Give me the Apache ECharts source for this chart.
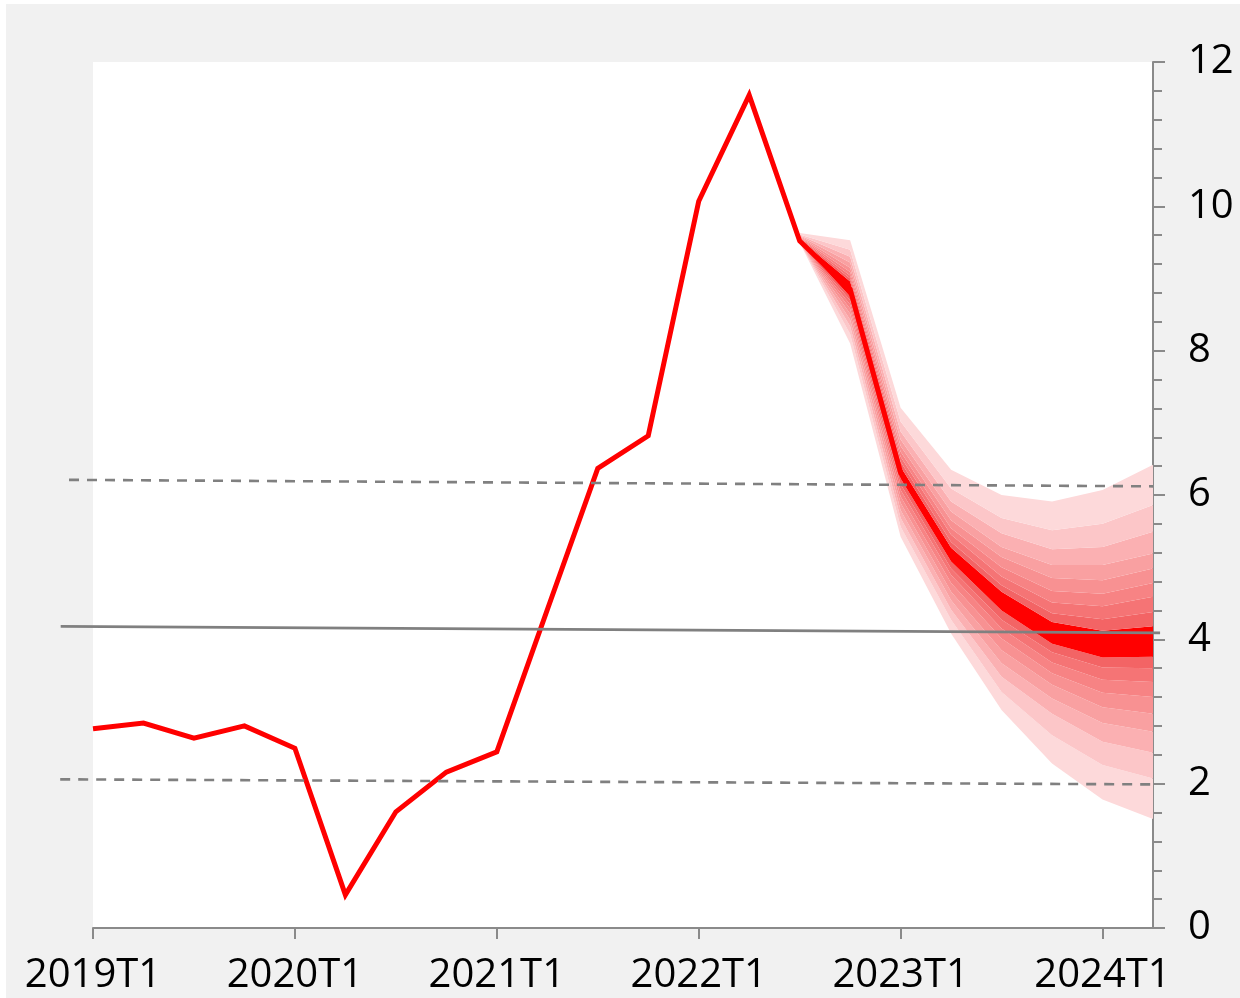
<!DOCTYPE html>
<html>
<head>
<meta charset="utf-8">
<script src="https://cdn.jsdelivr.net/npm/echarts@6/dist/echarts.min.js"></script>
<style>
  html, body { margin: 0; padding: 0; background: #ffffff; }
  #chart { position: absolute; left: 6px; top: 4px; width: 1234px; height: 994px; }
</style>
</head>
<body>
<div id="chart"></div>
<script>
// ---------- DATA ----------
const categories = [
  '2019T1','2019T2','2019T3','2019T4',
  '2020T1','2020T2','2020T3','2020T4',
  '2021T1','2021T2','2021T3','2021T4',
  '2022T1','2022T2','2022T3','2022T4',
  '2023T1','2023T2','2023T3','2023T4',
  '2024T1','2024T2'
];

// main inflation line
const mainLine = [2.76, 2.84, 2.63, 2.80, 2.49, 0.46, 1.61, 2.16, 2.44, 4.41, 6.37, 6.82,
                  10.07, 11.54, 9.52, 8.85, 6.31, 5.19, 4.53, 4.09, 3.94, 3.97];

// fan boundaries, 2022T3 .. 2024T2, ordered from outer bottom to outer top
const fanStart = 14; // index of 2022T3
const fanBounds = [
  [9.50, 8.10, 5.42, 4.08, 3.02, 2.28, 1.78, 1.51], // outer bottom
  [9.50, 8.23, 5.56, 4.27, 3.27, 2.67, 2.26, 2.07],
  [9.50, 8.34, 5.68, 4.41, 3.48, 2.97, 2.58, 2.43],
  [9.50, 8.43, 5.79, 4.54, 3.67, 3.18, 2.84, 2.72],
  [9.50, 8.51, 5.89, 4.66, 3.85, 3.37, 3.06, 2.97],
  [9.50, 8.58, 5.98, 4.78, 4.01, 3.53, 3.26, 3.20],
  [9.50, 8.64, 6.07, 4.89, 4.15, 3.68, 3.44, 3.41],
  [9.50, 8.70, 6.15, 4.98, 4.27, 3.82, 3.61, 3.60],
  [9.51, 8.75, 6.23, 5.08, 4.40, 3.94, 3.75, 3.76], // central band bottom
  [9.54, 8.96, 6.39, 5.27, 4.66, 4.24, 4.12, 4.18], // central band top
  [9.55, 9.00, 6.46, 5.35, 4.75, 4.36, 4.28, 4.38],
  [9.56, 9.04, 6.53, 5.45, 4.87, 4.51, 4.46, 4.59],
  [9.57, 9.09, 6.60, 5.54, 5.00, 4.67, 4.63, 4.78],
  [9.58, 9.15, 6.68, 5.65, 5.14, 4.85, 4.82, 4.98],
  [9.59, 9.22, 6.77, 5.77, 5.28, 5.03, 5.03, 5.19],
  [9.60, 9.30, 6.88, 5.91, 5.47, 5.25, 5.28, 5.49],
  [9.61, 9.40, 7.02, 6.09, 5.68, 5.51, 5.60, 5.86],
  [9.63, 9.53, 7.21, 6.35, 6.00, 5.91, 6.07, 6.42]  // outer top
];
const fanColors = ['#fdd9da', '#fcc6c8', '#fbb0b2', '#f9a0a1', '#f89192', '#f78384', '#f57475', '#f36465',
                   '#ff0000',
                   '#f36465', '#f57475', '#f78384', '#f89192', '#f9a0a1', '#fbb0b2', '#fcc6c8', '#fdd9da'];

// reference lines: [x, y] points in quarter index units (x may run past the first/last quarter)
const refUpper = [[-0.475, 6.21], [21, 6.12]];
const refMid   = [[-0.64, 4.18], [21.14, 4.09]];
const refLower = [[-0.65, 2.06], [21, 1.99]];

const yTicks = { min: 0, max: 12, interval: 2 };

// ---------- BUILD ----------
const chart = echarts.init(document.getElementById('chart'), null, { renderer: 'canvas' });

const gridLeft = 87, gridTop = 58, gridW = 1060, gridH = 866;
const nSteps = categories.length - 1;
const pxPerStep = gridW / nSteps;
// wider overlay grid for the reference lines, which run outside the plot area
const padL = 40, padR = 14;

function padFan(arr) {
  const out = categories.map(() => '-');
  arr.forEach((v, i) => { out[fanStart + i] = v; });
  return out;
}

const series = [];
series.push({
  type: 'line', stack: 'fan', symbol: 'none', silent: true,
  data: padFan(fanBounds[0]),
  lineStyle: { width: 0, opacity: 0 }, z: 2
});
for (let b = 1; b < fanBounds.length; b++) {
  const diff = fanBounds[b].map((v, i) => +(v - fanBounds[b - 1][i]).toFixed(4));
  series.push({
    type: 'line', stack: 'fan', symbol: 'none', silent: true,
    data: padFan(diff),
    lineStyle: { width: 0, opacity: 0 },
    areaStyle: { color: fanColors[b - 1], opacity: 1 },
    z: 2
  });
}
series.push({
  type: 'line', symbol: 'none', data: mainLine,
  lineStyle: { color: '#ff0000', width: 5, join: 'miter' }, z: 4
});
function refSeries(d, dashed) {
  return {
    type: 'line', xAxisIndex: 1, yAxisIndex: 1, symbol: 'none', silent: true,
    data: d,
    lineStyle: { color: '#808080', width: 2.6, type: dashed ? [10, 8] : 'solid' },
    z: 5
  };
}
series.push(refSeries(refUpper, true));
series.push(refSeries(refMid, false));
series.push(refSeries(refLower, true));

const axisGray = '#8a8a8a';
const option = {
  animation: false,
  backgroundColor: '#f1f1f1',
  grid: [{
    left: gridLeft, top: gridTop, width: gridW, height: gridH,
    show: true, backgroundColor: '#ffffff', borderWidth: 0
  }, {
    left: gridLeft - padL, top: gridTop, width: gridW + padL + padR, height: gridH,
    show: false
  }],
  xAxis: [{
    type: 'category', data: categories, boundaryGap: false, gridIndex: 0,
    axisLine: { show: true, onZero: false, lineStyle: { color: axisGray, width: 2 } },
    axisTick: { show: true, interval: 3, length: 11, lineStyle: { color: axisGray, width: 2 } },
    axisLabel: { interval: 3, margin: 28, fontSize: 40, color: '#000', fontFamily: 'Open Sans' },
    splitLine: { show: false }
  }, {
    type: 'value', gridIndex: 1, show: false,
    min: -padL / pxPerStep, max: nSteps + padR / pxPerStep
  }],
  yAxis: [{
    type: 'value', gridIndex: 0, position: 'right', min: yTicks.min, max: yTicks.max, interval: yTicks.interval,
    axisLine: { show: true, onZero: false, lineStyle: { color: axisGray, width: 2 } },
    axisTick: { show: true, inside: false, length: 12, lineStyle: { color: axisGray, width: 2 } },
    minorTick: { show: true, splitNumber: 5, length: 9, lineStyle: { color: axisGray, width: 2 } },
    axisLabel: { margin: 35, fontSize: 40, color: '#000', fontFamily: 'Open Sans' },
    splitLine: { show: false }
  }, {
    type: 'value', gridIndex: 1, show: false, min: yTicks.min, max: yTicks.max
  }],
  series: series
};
chart.setOption(option);
</script>
</body>
</html>
